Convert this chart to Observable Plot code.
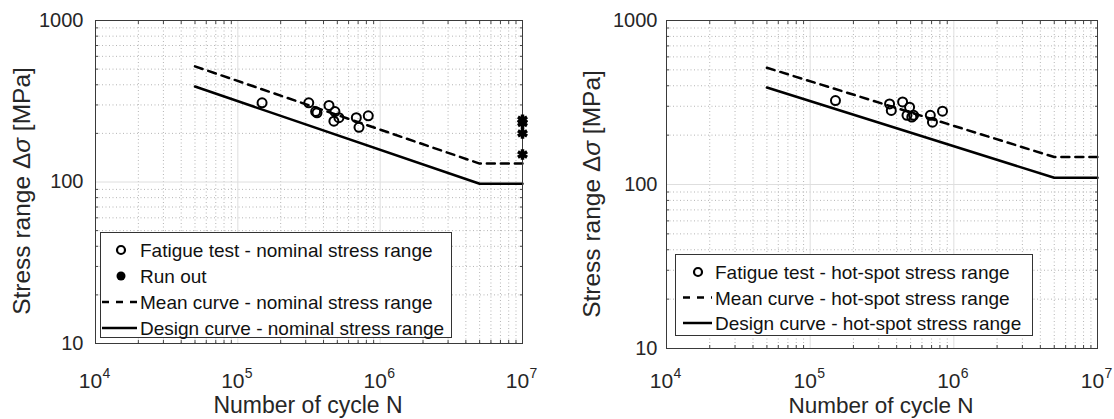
<!DOCTYPE html>
<html><head><meta charset="utf-8">
<script src="https://cdn.jsdelivr.net/npm/d3@7"></script>
<script src="https://cdn.jsdelivr.net/npm/@observablehq/plot@0.6"></script>
<style>
body{margin:0;background:#fff;font-family:"Liberation Sans",Arial,sans-serif;}
#wrap{position:relative;width:1114px;height:419px;overflow:hidden;background:#fff}
.panel{position:absolute;top:0}
.ylab{position:absolute;white-space:nowrap;font-size:24.5px;color:#262626;transform:translate(-50%,-50%) rotate(-90deg);line-height:1}
.xlab{position:absolute;white-space:nowrap;font-size:23px;color:#262626;transform:translateX(-50%);line-height:1}
.legend{position:absolute;border:1px solid #333;background:#fff;box-sizing:border-box}
.legend svg{position:absolute;left:0;top:0;overflow:visible}
.legend .t{position:absolute;white-space:nowrap;font-size:19px;color:#111;line-height:1;transform:translateY(-50%)}
</style></head>
<body><div id="wrap"></div>
<script>
// ---- data ----
const xTicks = [1e4, 1e5, 1e6, 1e7];
const yTicks = [10, 100, 1000];
const curveN = [5e4, 5e6, 1e7];
const meanNominal = [520, 130, 130];
const designNominal = [390, 97.5, 97.5];
const meanHotSpot = [515, 147, 147];
const designHotSpot = [390, 110, 110];
const testNominalN = [1.48e5, 3.15e5, 3.52e5, 3.6e5, 4.37e5, 4.81e5, 5.13e5, 4.73e5, 6.8e5, 7.1e5, 8.25e5];
const testNominalS = [309, 309, 273, 268, 298, 273, 250, 238, 250, 218, 257];
const runOutN = [1e7, 1e7, 1e7, 1e7];
const runOutS = [243, 232, 200, 148];
const testHotSpotN = [1.5e5, 3.57e5, 3.67e5, 4.4e5, 4.92e5, 4.72e5, 5.25e5, 5.1e5, 6.86e5, 7.1e5, 8.34e5];
const testHotSpotS = [325, 310, 283, 319, 296, 264, 264, 258, 264, 240, 280];
const legendNominal = ["Fatigue test - nominal stress range", "Run out", "Mean curve - nominal stress range", "Design curve - nominal stress range"];
const legendHotSpot = ["Fatigue test - hot-spot stress range", "Mean curve - hot-spot stress range", "Design curve - hot-spot stress range"];
const xLabel = "Number of cycle N";

const zip = (a, b) => a.map((v, i) => ({x: v, y: b[i]}));
const minorOf = (ticks) => ticks.slice(0, -1).flatMap(t => d3.range(2, 10).map(k => k * t));

function panel(o) {
  const marks = [
    Plot.gridX(minorOf(xTicks), {stroke: "#b5b5b5", strokeOpacity: 1, strokeDasharray: "1,2.5"}),
    Plot.gridY(minorOf(yTicks), {stroke: "#b5b5b5", strokeOpacity: 1, strokeDasharray: "1,2.5"}),
    Plot.gridX(xTicks, {stroke: "#dedede", strokeOpacity: 1}),
    Plot.gridY(yTicks, {stroke: "#dedede", strokeOpacity: 1}),
    Plot.axisX(minorOf(xTicks), {anchor: "bottom", tickSize: -3, tickFormat: () => "", label: null, stroke: "#444"}),
    Plot.axisX(minorOf(xTicks), {anchor: "top", tickSize: -3, tickFormat: () => "", label: null, stroke: "#444"}),
    Plot.axisY(minorOf(yTicks), {anchor: "left", tickSize: -3, tickFormat: () => "", label: null, stroke: "#444"}),
    Plot.axisY(minorOf(yTicks), {anchor: "right", tickSize: -3, tickFormat: () => "", label: null, stroke: "#444"}),
    Plot.axisY(yTicks, {anchor: "left", tickSize: 0, tickPadding: o.yPad, tickFormat: d => String(d), label: null, fontSize: 20, fill: "#262626"}),
    Plot.line(zip(curveN, o.mean), {x: "x", y: "y", stroke: "#000", strokeWidth: 2.5, strokeDasharray: "8,6"}),
    Plot.line(zip(curveN, o.design), {x: "x", y: "y", stroke: "#000", strokeWidth: 2.5}),
    Plot.dot(zip(o.testN, o.testS), {x: "x", y: "y", r: 4.5, stroke: "#000", strokeWidth: 2, fill: "none"}),
    Plot.frame({stroke: "#3a3a3a"}),
    Plot.text(xTicks, {x: d => d, frameAnchor: "bottom", text: () => "10", dx: -5, dy: o.baseDy, lineAnchor: "bottom", fontSize: 21, fill: "#262626"}),
    Plot.text(xTicks, {x: d => d, frameAnchor: "bottom", text: d => String(Math.round(Math.log10(d))), dx: 7, dy: o.expDy, textAnchor: "start", lineAnchor: "bottom", fontSize: 14, fill: "#262626"})
  ];
  if (o.runN) marks.push(Plot.dot(zip(o.runN, o.runS), {x: "x", y: "y", symbol: "asterisk", r: 5, stroke: "#000", strokeWidth: 3.5}));
  return Plot.plot({
    width: o.width, height: 419,
    marginLeft: o.ml, marginRight: o.mr, marginTop: o.mt, marginBottom: o.mb,
    x: {type: "log", domain: [1e4, 1e7], axis: null},
    y: {type: "log", domain: [10, 1000], axis: null},
    style: {fontFamily: "Liberation Sans, Arial, sans-serif", background: "transparent", overflow: "visible"},
    marks
  });
}

const wrap = document.getElementById("wrap");
function place(el, left) { el.classList.add("panel"); el.style.left = left + "px"; wrap.appendChild(el); }

place(panel({width: 557, ml: 95, mr: 35, mt: 20, mb: 76, yPad: 12, baseDy: 44, expDy: 34,
  mean: meanNominal, design: designNominal, testN: testNominalN, testS: testNominalS, runN: runOutN, runS: runOutS}), 0);
place(panel({width: 557, ml: 109, mr: 17, mt: 20, mb: 71, yPad: 9, baseDy: 39, expDy: 29,
  mean: meanHotSpot, design: designHotSpot, testN: testHotSpotN, testS: testHotSpotS}), 557);

function addLabel(cls, html, x, y, size) {
  const d = document.createElement("div"); d.className = cls; d.innerHTML = html;
  d.style.left = x + "px"; d.style.top = y + "px";
  if (size) d.style.fontSize = size + "px";
  wrap.appendChild(d);
}
const yLabel = 'Stress range &Delta;<i>&sigma;</i> [MPa]';
addLabel("ylab", yLabel, 22, 191);
addLabel("ylab", yLabel, 592, 194);
addLabel("xlab", xLabel, 308, 394);
addLabel("xlab", xLabel, 881, 395, 22.5);

const NS = "http://www.w3.org/2000/svg";
function legend(box, rows) {
  const d = document.createElement("div"); d.className = "legend";
  Object.assign(d.style, {left: box.x + "px", top: box.y + "px", width: box.w + "px", height: box.h + "px"});
  const svg = document.createElementNS(NS, "svg");
  svg.setAttribute("width", box.w); svg.setAttribute("height", box.h);
  d.appendChild(svg);
  rows.forEach((r, i) => {
    const cy = box.first + i * box.step;
    if (r.kind === "circle") {
      const c = document.createElementNS(NS, "circle");
      c.setAttribute("cx", box.mx); c.setAttribute("cy", cy); c.setAttribute("r", 4);
      c.setAttribute("fill", "none"); c.setAttribute("stroke", "#000"); c.setAttribute("stroke-width", 2.2);
      svg.appendChild(c);
    } else if (r.kind === "star") {
      const c = document.createElementNS(NS, "circle");
      c.setAttribute("cx", box.mx); c.setAttribute("cy", cy); c.setAttribute("r", 4.5);
      c.setAttribute("fill", "#000");
      svg.appendChild(c);
    } else {
      const l = document.createElementNS(NS, "line");
      l.setAttribute("x1", box.l1); l.setAttribute("x2", box.l2); l.setAttribute("y1", cy); l.setAttribute("y2", cy);
      l.setAttribute("stroke", "#000"); l.setAttribute("stroke-width", 2.5);
      if (r.kind === "dash") l.setAttribute("stroke-dasharray", "7,7");
      svg.appendChild(l);
    }
    const t = document.createElement("div"); t.className = "t"; t.textContent = r.text;
    t.style.left = box.tx + "px"; t.style.top = cy + "px";
    d.appendChild(t);
  });
  wrap.appendChild(d);
}
legend({x: 100, y: 232, w: 352, h: 106, first: 17, step: 26, mx: 20, l1: 1, l2: 36, tx: 39},
  [{kind: "circle", text: legendNominal[0]}, {kind: "star", text: legendNominal[1]}, {kind: "dash", text: legendNominal[2]}, {kind: "solid", text: legendNominal[3]}]);
legend({x: 675, y: 254, w: 358, h: 82, first: 17, step: 25.5, mx: 22, l1: 7, l2: 36, tx: 39},
  [{kind: "circle", text: legendHotSpot[0]}, {kind: "dash", text: legendHotSpot[1]}, {kind: "solid", text: legendHotSpot[2]}]);
</script>
</body></html>
